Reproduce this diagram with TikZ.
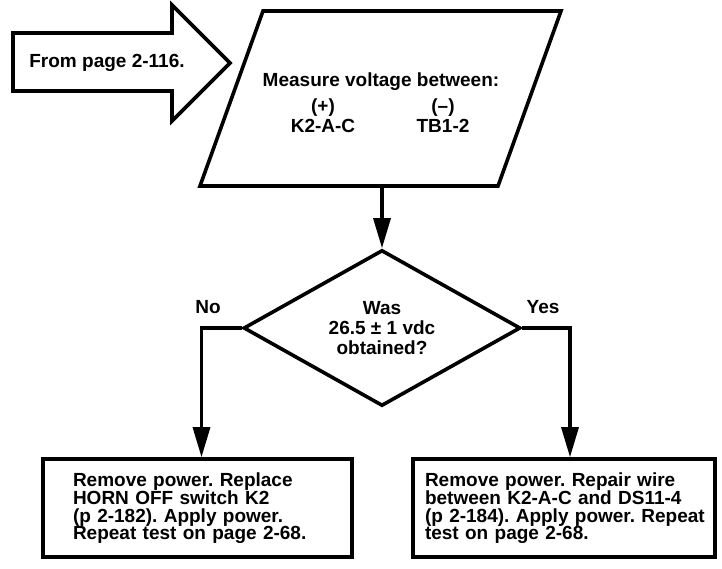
\documentclass[tikz,border=0pt]{standalone}
\usepackage{fontspec}
\setmainfont{Liberation Sans}
\usepackage{tikz}
\usetikzlibrary{positioning, arrows.meta, shapes.geometric}
\frenchspacing

\begin{document}
\begin{tikzpicture}[x=1pt,y=-1pt,
  txt/.style={font=\fontsize{19}{17.5}\selectfont\bfseries, inner sep=0pt},
  edge/.style={line width=3.6pt, line join=miter},
  flow/.style={line width=3.2pt, -{Triangle[length=30pt,width=17pt]}},
  box/.style={draw, line width=3.6pt, minimum height=98pt, align=left, txt, inner ysep=0pt}]
\useasboundingbox (0,0) rectangle (722,569);
% entry arrow
\draw[edge] (13,33)--(172,33)--(172,5)--(230,63)--(172,121)--(172,91)--(13,91)--cycle;
\node[txt] (from) at (107,63) {From page 2-116.};
% measuring step
\draw[edge] (263,11)--(561,11)--(498,186)--(200,186)--cycle;
\coordinate (mout) at (382,186);
\node[txt] (measure) at (381,82) {Measure voltage between:};
\node[txt] (plus) at (323,108) {(+)};
\node[txt] (kpin) at (323,126) {K2-A-C};
\node[txt] (minus) at (443,108) {(–)};
\node[txt] (tbpin) at (443,126) {TB1-2};
% decision
\node[draw, diamond, aspect=2, line width=3.6pt, minimum width=277pt, minimum height=156pt,
  txt, align=center, font=\fontsize{19}{20}\selectfont\bfseries] (check) at (382,328)
  {Was\\26.5 ± 1 vdc\\obtained?};
\node[txt] (no) at (208,307) {No};
\node[txt] (yes) at (543,307) {Yes};
% outcomes
\node[box, text width=249pt, inner xsep=30pt] (nobox) at (197.5,508)
  {Remove power. Replace\\HORN OFF switch K2\\(p 2-182). Apply power.\\Repeat test on page 2-68.};
\node[box, text width=292pt, inner xsep=5pt] (yesbox) at (564,508)
  {\hspace*{7pt}Remove power. Repair wire\\\hspace*{7pt}between K2-A-C and DS11-4\\\hspace*{7pt}(p 2-184). Apply power. Repeat\\\hspace*{7pt}test on page 2-68.};
\draw[flow] (mout) -- (check.north);
\draw[flow] (check.west) -| ([xshift=4pt]nobox.north);
\draw[flow] (check.east) -| ([xshift=6pt]yesbox.north);
\end{tikzpicture}
\end{document}
